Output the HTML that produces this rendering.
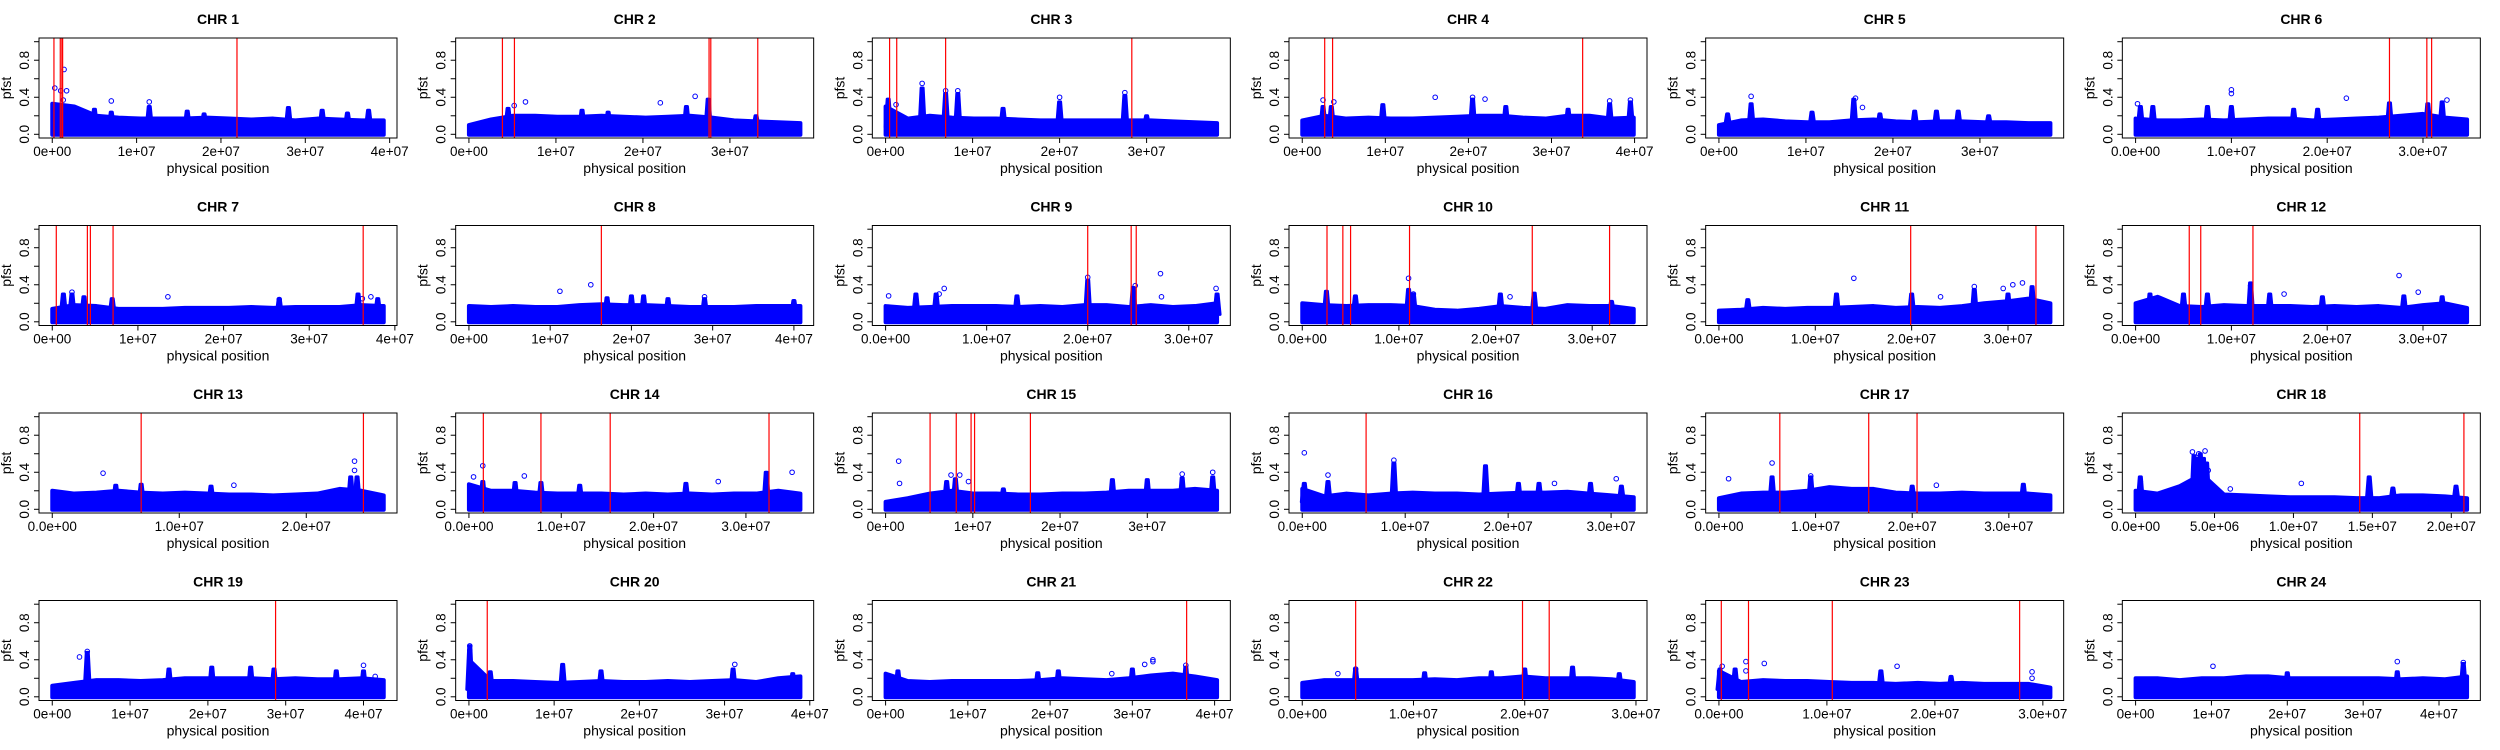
<!DOCTYPE html>
<html><head><meta charset="utf-8"><style>
html,body{margin:0;padding:0;background:#fff;}
svg{display:block;font-family:"Liberation Sans",Arial,sans-serif;}
</style></head><body>
<svg id="chart" width="2500" height="750" viewBox="0 0 2500 750" xmlns="http://www.w3.org/2000/svg"></svg>
<script>
// ---- data (positions in Mb, values pfst) ----
const chrLengths=[39.3,38.1,38.1,39.9,38.1,34.6,38.7,40.8,32.8,34.3,34.4,34.6,26.1,35.9,38.0,32.2,34.3,21.0,42.6,38.9,40.3,29.8,30.7,43.7];
const redLines=[[0.2,0.95,1.14,1.23,21.9],[3.85,5.23,27.6,27.8,33.2],[0.46,1.28,6.9,28.3],[2.7,3.65,33.75],[],[26.5,30.4,30.9],
[0.47,4.1,4.45,7.1,36.3],[16.3],[20.0,24.3,24.8],[2.56,4.2,5.0,11.1,23.8,31.8],[19.9,32.9],[5.6,6.8,12.25],
[7.0,24.5],[1.56,7.8,15.3,32.5],[5.1,8.1,9.8,10.2,16.6],[6.2],[6.3,15.5,20.5],[14.2,20.8],
[28.7],[2.15],[36.6],[4.8,19.8,22.2],[0.22,2.74,10.5,27.85],[]];
const envs=[
[0.33,0.30,0.2,0.18,0.17,0.17,0.17,0.18,0.17,0.16,0.17,0.15,0.17,0.16,0.15,0.15],
[0.1,0.16,0.2,0.2,0.19,0.19,0.2,0.19,0.18,0.19,0.2,0.18,0.15,0.14,0.13,0.12],
[0.3,0.17,0.2,0.18,0.17,0.17,0.16,0.15,0.15,0.15,0.15,0.15,0.15,0.14,0.13,0.12],
[0.15,0.2,0.17,0.18,0.17,0.17,0.18,0.19,0.2,0.2,0.18,0.17,0.2,0.2,0.17,0.18],
[0.1,0.15,0.16,0.14,0.13,0.13,0.15,0.16,0.14,0.13,0.14,0.14,0.13,0.13,0.12,0.12],
[0.17,0.15,0.15,0.16,0.15,0.16,0.17,0.17,0.15,0.16,0.17,0.18,0.2,0.22,0.18,0.16],
[0.14,0.18,0.17,0.14,0.14,0.14,0.15,0.15,0.15,0.16,0.15,0.16,0.16,0.16,0.18,0.17],
[0.17,0.16,0.17,0.16,0.16,0.18,0.19,0.18,0.18,0.17,0.16,0.16,0.16,0.17,0.17,0.17],
[0.17,0.15,0.16,0.17,0.17,0.17,0.16,0.17,0.16,0.18,0.18,0.16,0.18,0.16,0.17,0.2],
[0.2,0.18,0.17,0.18,0.18,0.17,0.13,0.12,0.14,0.17,0.15,0.14,0.18,0.17,0.17,0.14],
[0.12,0.13,0.15,0.14,0.15,0.15,0.16,0.17,0.15,0.16,0.15,0.17,0.2,0.22,0.25,0.2],
[0.2,0.27,0.17,0.16,0.18,0.17,0.17,0.17,0.16,0.17,0.16,0.17,0.15,0.18,0.2,0.15],
[0.2,0.17,0.18,0.2,0.18,0.17,0.18,0.17,0.16,0.16,0.15,0.16,0.17,0.22,0.2,0.15],
[0.27,0.2,0.2,0.18,0.17,0.17,0.17,0.16,0.17,0.16,0.17,0.16,0.17,0.17,0.2,0.17],
[0.08,0.12,0.17,0.2,0.17,0.17,0.16,0.16,0.17,0.17,0.18,0.2,0.2,0.2,0.22,0.2],
[0.22,0.14,0.17,0.15,0.17,0.18,0.17,0.17,0.16,0.17,0.18,0.18,0.19,0.17,0.15,0.13],
[0.12,0.17,0.18,0.18,0.2,0.24,0.22,0.22,0.18,0.17,0.17,0.18,0.17,0.17,0.17,0.15],
[0.2,0.17,0.25,0.38,0.16,0.15,0.14,0.13,0.13,0.13,0.12,0.12,0.15,0.15,0.14,0.12],
[0.12,0.15,0.18,0.18,0.17,0.18,0.2,0.2,0.2,0.2,0.19,0.2,0.19,0.19,0.2,0.18],
[0.4,0.17,0.17,0.16,0.15,0.16,0.17,0.16,0.16,0.17,0.16,0.17,0.18,0.16,0.2,0.22],
[0.25,0.17,0.16,0.17,0.17,0.17,0.17,0.18,0.2,0.19,0.18,0.2,0.23,0.25,0.22,0.18],
[0.15,0.18,0.18,0.18,0.18,0.18,0.19,0.18,0.2,0.2,0.22,0.2,0.2,0.2,0.19,0.16],
[0.28,0.16,0.18,0.17,0.17,0.16,0.15,0.15,0.14,0.15,0.14,0.15,0.14,0.14,0.14,0.1],
[0.2,0.2,0.18,0.2,0.2,0.22,0.22,0.2,0.2,0.2,0.2,0.2,0.19,0.2,0.19,0.22]];
const peaks=[
[[5,0.27],[7,0.24],[11.5,0.3],[16,0.25],[18,0.22],[28,0.29],[32,0.26],[35,0.23],[37.5,0.26]],
[[4.5,0.28],[13,0.26],[16,0.24],[25,0.3],[27.5,0.38],[33,0.2]],
[[0.3,0.38],[4.2,0.5],[6.9,0.44],[8.3,0.44],[13.5,0.28],[20,0.35],[27.5,0.42],[30,0.2]],
[[2.5,0.3],[3.5,0.3],[9.7,0.32],[20.5,0.38],[24.5,0.3],[32,0.27],[37,0.33],[39.5,0.35]],
[[1,0.22],[3.7,0.33],[10.7,0.24],[15.5,0.38],[18.5,0.22],[22.5,0.25],[25,0.25],[27.5,0.25],[31,0.2]],
[[0.5,0.3],[1.8,0.3],[7.5,0.3],[10,0.3],[16.5,0.27],[19,0.27],[26.5,0.34],[30.5,0.33],[32,0.35]],
[[1.3,0.3],[2.3,0.3],[3.7,0.27],[7,0.25],[26.5,0.25],[35.7,0.3],[38,0.25]],
[[17,0.26],[20,0.28],[21.5,0.28],[24.5,0.25],[29,0.25],[40,0.23]],
[[3,0.3],[5,0.3],[13,0.28],[20,0.45],[24.5,0.37],[32.8,0.3]],
[[2.5,0.33],[5.5,0.28],[11,0.35],[11.5,0.3],[20.5,0.3],[24,0.31],[32,0.22]],
[[3,0.24],[12.2,0.3],[20,0.3],[26.5,0.35],[30,0.3],[32.5,0.38]],
[[1.5,0.3],[5,0.3],[7.5,0.3],[12,0.42],[14,0.3],[19.5,0.27],[28,0.28],[32,0.27]],
[[5,0.26],[7,0.27],[12.5,0.25],[23.5,0.35],[24,0.35]],
[[1.5,0.3],[5,0.29],[7.8,0.29],[12,0.26],[23.5,0.28],[32.2,0.4]],
[[7,0.3],[8,0.33],[13.5,0.22],[26,0.32],[30,0.32],[34,0.34],[37.5,0.35]],
[[0.2,0.28],[2.5,0.3],[8.9,0.5],[17.8,0.47],[21,0.28],[23,0.28],[28,0.28],[31,0.25]],
[[5.5,0.35],[9.5,0.35],[20,0.25],[31.5,0.27]],
[[0.3,0.35],[3.7,0.58],[3.9,0.55],[4.1,0.6],[4.3,0.55],[4.5,0.5],[14.8,0.35],[16.3,0.23],[20.3,0.25]],
[[4.5,0.48],[15,0.3],[20.5,0.32],[25.5,0.32],[28.5,0.3],[36.5,0.28],[40,0.28]],
[[0.1,0.55],[2.5,0.27],[11,0.35],[15.5,0.28],[31,0.3],[38,0.25]],
[[1.5,0.28],[18.5,0.26],[21,0.28],[30,0.3],[36.5,0.32]],
[[4.8,0.3],[11,0.26],[17,0.27],[20,0.3],[24.3,0.32],[28.5,0.25]],
[[0.1,0.3],[1.5,0.3],[15,0.28],[21.5,0.22]],
[[20,0.26],[34.5,0.27],[43.2,0.36]]];
const outliers=[
[[0.3,0.5],[1.0,0.47],[1.4,0.70],[1.7,0.47],[1.3,0.37],[7,0.36],[11.5,0.35]],
[[6.5,0.35],[22,0.34],[26,0.41],[5.2,0.31]],
[[4.2,0.55],[6.9,0.47],[8.3,0.47],[20,0.4],[27.5,0.45],[1.2,0.32]],
[[2.5,0.37],[3.8,0.35],[16,0.4],[20.5,0.4],[22,0.38],[37,0.36],[39.5,0.37]],
[[3.7,0.41],[15.7,0.39],[16.5,0.29]],
[[0.2,0.33],[10,0.48],[10,0.44],[22,0.39],[32.5,0.37]],
[[2.3,0.32],[13.5,0.27],[26.5,0.24],[36.2,0.25],[37.2,0.27]],
[[11.2,0.33],[15,0.4],[29,0.27]],
[[0.3,0.28],[5.3,0.3],[5.8,0.36],[20,0.48],[24.7,0.39],[27.2,0.52],[27.3,0.27],[32.7,0.36]],
[[11,0.47],[11.5,0.3],[21.5,0.27]],
[[14,0.47],[23,0.27],[26.5,0.38],[30.5,0.4],[31.5,0.42],[29.5,0.36]],
[[12,0.39],[15.5,0.3],[27.5,0.5],[29.5,0.32]],
[[4,0.39],[14.3,0.26],[23.8,0.52],[23.8,0.42]],
[[1.5,0.47],[0.5,0.35],[6,0.36],[27,0.3],[35,0.4]],
[[1.5,0.52],[1.6,0.28],[7.5,0.37],[8.5,0.37],[9.5,0.3],[37.5,0.4],[34,0.38]],
[[0.2,0.61],[2.5,0.37],[8.9,0.53],[30.5,0.33],[24.5,0.28]],
[[1,0.33],[5.5,0.5],[9.5,0.36],[22.5,0.26]],
[[3.6,0.62],[4.0,0.6],[4.4,0.63],[3.8,0.5],[4.2,0.45],[4.6,0.42],[0.3,0.3],[10.5,0.28],[6,0.22]],
[[3.5,0.43],[4.5,0.49],[40,0.34],[41.5,0.22]],
[[0.1,0.55],[0.1,0.5],[31.2,0.35],[1,0.2]],
[[32.5,0.4],[32.5,0.38],[31.5,0.35],[36.5,0.34],[27.5,0.25]],
[[4.8,0.3],[3.2,0.25]],
[[0.3,0.33],[2.5,0.38],[2.5,0.28],[4.2,0.36],[16.5,0.33],[29,0.27],[29,0.2]],
[[10.2,0.33],[34.5,0.38],[43.2,0.37]]];
const T_INT=["0e+00","1e+07","2e+07","3e+07","4e+07"];
const T_INT3=["0e+00","1e+07","2e+07","3e+07"];
const T_DEC=["0.0e+00","1.0e+07","2.0e+07","3.0e+07"];
const T_DEC2=["0.0e+00","1.0e+07","2.0e+07"];
const T_18=["0.0e+00","5.0e+06","1.0e+07","1.5e+07","2.0e+07"];
const xTickLabels=[T_INT,T_INT3,T_INT3,T_INT,T_INT3,T_DEC,T_INT,T_INT,T_DEC,T_DEC,T_DEC,T_DEC,
T_DEC2,T_DEC,T_INT3,T_DEC,T_DEC,T_18,T_INT,T_INT,T_INT,T_DEC,T_DEC,T_INT];
const yTickValues=[0,0.2,0.4,0.6,0.8,1.0];
const yTickLabels=["0.0","","0.4","","0.8",""];

const NS="http://www.w3.org/2000/svg";
const svg=document.getElementById('chart');
function mk(tag,attrs,parent){const e=document.createElementNS(NS,tag);for(const k in attrs)e.setAttribute(k,attrs[k]);(parent||svg).appendChild(e);return e;}

const BW=358,BH=100;
for(let i=0;i<24;i++){
  const col=i%6,row=Math.floor(i/6);
  const ox=col*2500/6,oy=row*187.5;
  const L=chrLengths[i];
  const left=ox+39,top=oy+38,right=left+BW,bottom=top+BH;
  const xs=p=>left+(p+0.04*L)/(1.08*L)*BW;
  const ys=v=>top+(1.04-v)/1.08*BH;
  const g=mk('g',{});
  
  
  const t=mk('text',{x:(left+right)/2,y:oy+24,'text-anchor':'middle','font-size':'14','font-weight':'bold',fill:'#000'},g);
  t.textContent='CHR '+(i+1);
  
  
  const env=envs[i];const n=env.length;
  let pts=[[xs(0),ys(-0.005)]];
  for(let k=0;k<n;k++){pts.push([xs(k*L/(n-1)),ys(env[k])]);}
  pts.push([xs(L),ys(-0.005)]);
  const band=mk('polygon',{points:pts.map(p=>p.join(',')).join(' '),fill:'#0000ff',stroke:'#0000ff','stroke-width':'4','stroke-linejoin':'round'},g);
  
  
  peaks[i].forEach(pk=>{
    const x=xs(pk[0]),y=ys(pk[1]),yb=ys(0.08);
    const sp=mk('polygon',{points:`${x-3},${yb} ${x-1},${y} ${x+1},${y} ${x+3},${yb}`,fill:'#0000ff',stroke:'#0000ff','stroke-width':'3','stroke-linejoin':'round'},g);
    
    
  });
  outliers[i].forEach(o=>{
    const c=mk('circle',{cx:xs(o[0]),cy:ys(o[1]),r:2.3,fill:'none',stroke:'#0000ff','stroke-width':'1'},g);
    
    
  });
  redLines[i].forEach(p=>{
    const l=mk('line',{x1:xs(p),x2:xs(p),y1:top,y2:bottom,stroke:'#ff0000','stroke-width':'1.2'},g);
    
    
  });
  const box=mk('rect',{x:left,y:top,width:BW,height:BH,fill:'none',stroke:'#000','stroke-width':'1'},g);
  
  
  xTickLabels[i].forEach(lab=>{
    const v=parseFloat(lab)/1e6;const x=xs(v);
    mk('line',{x1:x,x2:x,y1:bottom,y2:bottom+5,stroke:'#000','stroke-width':'1'},g);
    const tt=mk('text',{x:x,y:bottom+18,'text-anchor':'middle','font-size':'13.5',fill:'#000'},g);
    tt.textContent=lab;
    
    
  });
  const xt=mk('text',{x:(left+right)/2,y:oy+173,'text-anchor':'middle','font-size':'14',fill:'#000'},g);
  xt.textContent='physical position';
  
  
  yTickValues.forEach((v,k)=>{
    const y=ys(v);
    mk('line',{x1:left-5,x2:left,y1:y,y2:y,stroke:'#000','stroke-width':'1'},g);
    if(yTickLabels[k]){
      const yl=mk('text',{x:left-10,y:y,'text-anchor':'middle','font-size':'13.5',fill:'#000',transform:`rotate(-90 ${left-10} ${y})`},g);
      yl.textContent=yTickLabels[k];
      
      
    }
  });
  const yt=mk('text',{x:ox+11,y:(top+bottom)/2,'text-anchor':'middle','font-size':'14',fill:'#000',transform:`rotate(-90 ${ox+11} ${(top+bottom)/2})`},g);
  yt.textContent='pfst';
  
  
}
</script>
</body></html>
